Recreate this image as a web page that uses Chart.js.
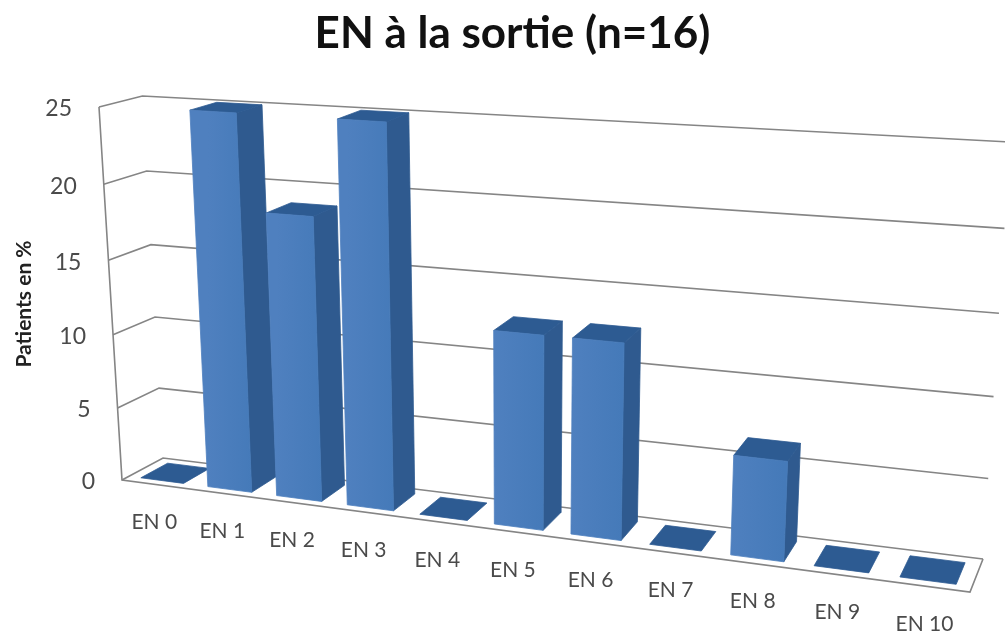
<!DOCTYPE html>
<html><head><meta charset="utf-8">
<style>html,body{margin:0;padding:0;background:#fff}canvas{display:block}</style>
<script src="https://cdn.jsdelivr.net/npm/chart.js@4"></script>
</head><body><canvas id="c" width="1005" height="639"></canvas>
<script>
const categories = ['EN 0','EN 1','EN 2','EN 3','EN 4','EN 5','EN 6','EN 7','EN 8','EN 9','EN 10'];
const patientsPct = [0, 25, 18.75, 25, 0, 12.5, 12.5, 0, 6.25, 0, 0];
const titleText = 'EN à la sortie (n=16)';
const yTitleText = 'Patients en %';

// camera frame: where the floor corners of the 3D box land on the page
const cam = {A:[122,480],D:[970,592],C:[983,559],B:[163,458]};
function project(u,d,v){
  const t=u/(1+0.164*(1-u));
  const fx=cam.A[0]+t*(cam.D[0]-cam.A[0]),fy=cam.A[1]+t*(cam.D[1]-cam.A[1]);
  const kx=cam.B[0]+t*(cam.C[0]-cam.B[0]),ky=cam.B[1]+t*(cam.C[1]-cam.B[1]);
  const bx=fx+d*(kx-fx),by=fy+d*(ky-fy);
  const f=v/(1+0.045*(1-v));
  const dx=-23+(bx-122)*(50/860);
  const dy=-(373-11*d+0.067*(bx-122-41*d));
  return [bx+f*dx,by+f*dy];
}
const D0=0.17,D1=0.83;

function poly(ctx,pts,fill){
  ctx.beginPath();pts.forEach((p,i)=>i?ctx.lineTo(p[0],p[1]):ctx.moveTo(p[0],p[1]));ctx.closePath();
  ctx.fillStyle=fill;ctx.fill();
  ctx.strokeStyle=fill;ctx.lineWidth=0.8;ctx.lineJoin='round';ctx.stroke();
}
const box3d={
  id:'box3d',
  beforeDatasetsDraw(chart){
    const ctx=chart.ctx,y=chart.scales.y;
    ctx.save();ctx.strokeStyle='#858585';ctx.lineWidth=1.6;ctx.lineJoin='miter';
    y.ticks.forEach(t=>{
      const v=t.value/y.max;
      const a=project(0,0,v),b=project(0,1,v),c=project(1,1,v);
      ctx.beginPath();ctx.moveTo(a[0],a[1]);ctx.lineTo(b[0],b[1]);ctx.lineTo(c[0],c[1]);ctx.stroke();
    });
    const a=project(0,0,0),e=project(0,0,1),d=project(1,0,0),c=project(1,1,0);
    ctx.beginPath();ctx.moveTo(e[0],e[1]);ctx.lineTo(a[0],a[1]);ctx.lineTo(d[0],d[1]);ctx.lineTo(c[0],c[1]);ctx.stroke();
    ctx.restore();
  },
  beforeDatasetDraw(chart,args){
    const ctx=chart.ctx,area=chart.chartArea;
    const U=px=>(px-area.left)/area.width,V=py=>(area.bottom-py)/area.height;
    ctx.save();
    args.meta.data.forEach(el=>{
      const u0=U(el.x-el.width/2),u1=U(el.x+el.width/2),v=V(el.y);
      const f0=project(u0,D0,0),f1=project(u1,D0,0),f2=project(u1,D0,v),f3=project(u0,D0,v);
      const b1=project(u1,D1,0),b2=project(u1,D1,v),b3=project(u0,D1,v);
      if(v>0.001){
        poly(ctx,[f1,b1,b2,f2],'#2f5a8f');
        poly(ctx,[f3,f2,b2,b3],'#2d5b92');
        const g=ctx.createLinearGradient(f0[0],0,f1[0],0);
        g.addColorStop(0,'#4f80bf');g.addColorStop(1,'#457ab9');
        poly(ctx,[f0,f1,f2,f3],g);
      } else {
        poly(ctx,[f3,f2,b2,b3],'#2d5b92');
      }
    });
    ctx.restore();
    return false;
  },
  afterDatasetsDraw(chart){
    const ctx=chart.ctx,y=chart.scales.y,labels=chart.data.labels,x=chart.scales.x,area=chart.chartArea;
    ctx.save();ctx.fillStyle='#4a4a4a';
    ctx.font='23px Lato';ctx.textAlign='right';ctx.textBaseline='middle';
    y.ticks.forEach(t=>{
      const p=project(0,0,t.value/y.max);
      ctx.fillText(String(t.value),p[0]-27,p[1]+2);
    });
    ctx.font='21px Lato';ctx.textAlign='center';
    labels.forEach((l,i)=>{
      const u=(x.getPixelForValue(i)-area.left)/area.width;
      const p=project(u,0,0);
      ctx.fillText(l,p[0]-1,p[1]+38);
    });
    ctx.translate(24,304);ctx.rotate(-Math.PI/2);
    ctx.font='bold 21px Lato';ctx.fillStyle='#222';
    ctx.fillText(yTitleText,0,0);
    ctx.restore();
  }
};
new Chart(document.getElementById('c'),{
  type:'bar',
  data:{labels:categories,datasets:[{label:'Patients en %',data:patientsPct,backgroundColor:'#4f81bd',barPercentage:0.64,categoryPercentage:1}]},
  options:{
    responsive:false,animation:false,devicePixelRatio:1,
    layout:{padding:{left:20,right:0,top:0,bottom:0}},
    plugins:{
      legend:{display:false},tooltip:{enabled:false},
      title:{display:true,text:titleText,fullSize:false,color:'#111',font:{family:'Lato',size:44,weight:'bold'},padding:{top:7,bottom:10}}
    },
    scales:{
      x:{display:false},
      y:{display:false,min:0,max:25,ticks:{stepSize:5}}
    }
  },
  plugins:[box3d]
});
</script></body></html>
